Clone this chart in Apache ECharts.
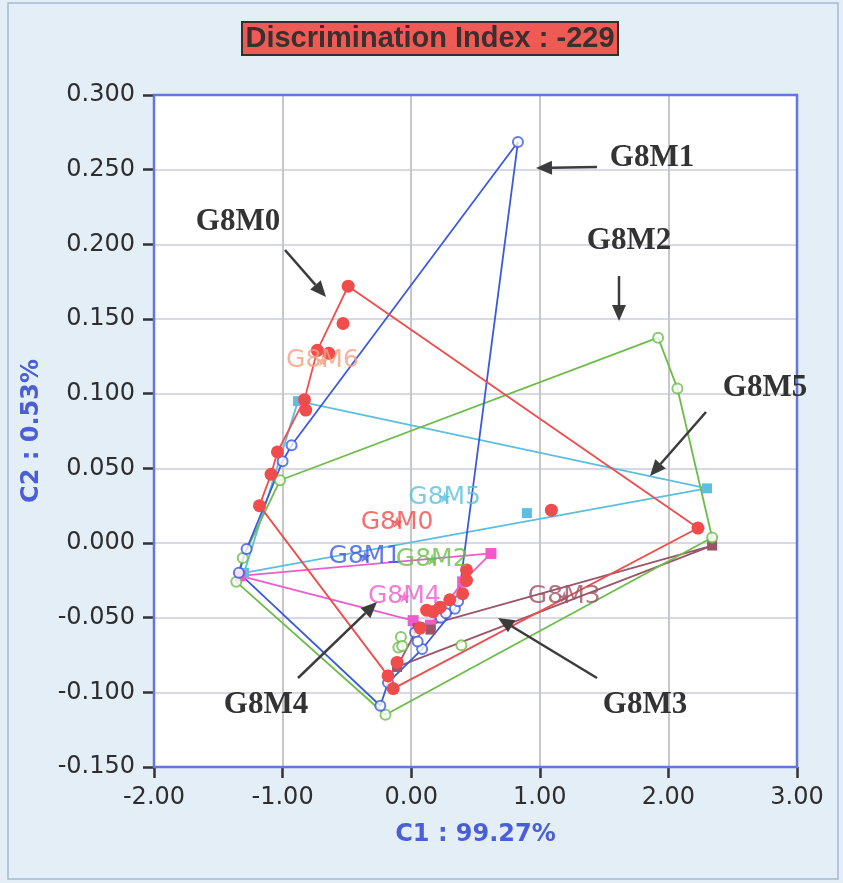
<!DOCTYPE html>
<html><head><meta charset="utf-8">
<script src="https://cdn.jsdelivr.net/npm/echarts@6/dist/echarts.min.js"></script>
<style>html,body{margin:0;padding:0;background:#e3eef7;} #c{width:843px;height:883px;}</style>
</head><body><div id="c"></div>
<script>
// ---------- data ----------
const groupNames = ['G8M0','G8M1','G8M2','G8M3','G8M4','G8M5','G8M6'];
const xTickValues = [-2, -1, 0, 1, 2, 3];
const yTickValues = [-0.15, -0.1, -0.05, 0, 0.05, 0.1, 0.15, 0.2, 0.25, 0.3];

const g8m0Points = [[-0.49,0.172],[-0.53,0.147],[-0.73,0.129],[-0.64,0.127],[-0.83,0.096],[-0.82,0.089],
  [-1.04,0.061],[-1.09,0.046],[-1.18,0.025],[2.23,0.010],[1.09,0.022],[-0.18,-0.089],[-0.14,-0.0975],
  [-0.11,-0.080],[0.43,-0.018],[0.43,-0.025],[0.40,-0.034],[0.30,-0.038],[0.225,-0.043],[0.12,-0.045],
  [0.07,-0.057],[0.17,-0.046]];
const g8m0Hull = [0,9,12,11,8,7,6,4,2,0];

const g8m1Points = [[0.83,0.2685],[-0.93,0.0654],[-1.00,0.0547],[-1.28,-0.004],[-1.34,-0.020],[-0.24,-0.109],
  [-0.18,-0.0935],[0.085,-0.071],[0.34,-0.044],[0.365,-0.039],[0.03,-0.060],[0.05,-0.066],[0.23,-0.050],[0.27,-0.047]];
const g8m1Hull = [0,1,2,3,4,5,6,7,8,9,0];

const g8m2Points = [[1.92,0.1375],[2.07,0.1035],[2.34,0.0037],[-0.20,-0.115],[-1.36,-0.026],[-1.31,-0.010],
  [-1.02,0.042],[0.39,-0.0685],[-0.08,-0.063],[-0.10,-0.070],[-0.07,-0.069]];
const g8m2Hull = [0,1,2,3,4,5,6,0];

const g8m3Points = [[2.34,-0.0017],[0.05,-0.057],[-0.11,-0.083],[0.15,-0.058]];
const g8m3Hull = [0,1,2,0];

const g8m4Points = [[0.62,-0.007],[-1.33,-0.022],[0.015,-0.052],[0.15,-0.055],[0.40,-0.026]];
const g8m4Hull = [1,0,4,3,2,1];

const g8m5Points = [[-0.88,0.095],[2.30,0.0366],[0.90,0.020],[-1.30,-0.020]];
const g8m5Hull = [0,1,3,0];

const g8m6Points = [];
const g8m6Hull = [];

const centroids = [[-0.11,0.014],[-0.36,-0.009],[0.163,-0.011],[1.19,-0.036],[-0.054,-0.036],[0.26,0.0306],[-0.69,0.122]];

// ---------- styles ----------
const colors = ['#f04c4c','#3c5ade','#6cbd48','#9c5468','#ee5ccc','#5cbfe0','#f4a080'];
const symbols = ['circle','emptyCircle','emptyCircle','rect','rect','rect','circle'];
const symbolSizes = [13,10,10,10,11,10,10];
const pointSets = [g8m0Points,g8m1Points,g8m2Points,g8m3Points,g8m4Points,g8m5Points,g8m6Points];
const hullSets = [g8m0Hull,g8m1Hull,g8m2Hull,g8m3Hull,g8m4Hull,g8m5Hull,g8m6Hull];
const drawOrder = [6,5,4,3,2,1,0];
const starPath = 'path://M50,0 L61,35 98,35 68,57 79,91 50,70 21,91 32,57 2,35 39,35 Z';

const series = [];
drawOrder.forEach(gi => {
  const pts = pointSets[gi];
  if (hullSets[gi].length) {
    series.push({type:'line', name:groupNames[gi], data: hullSets[gi].map(i => pts[i]),
      showSymbol:false, symbol:'none', silent:true, z:2,
      lineStyle:{color:colors[gi], width:1.8}});
  }
  if (pts.length) {
    series.push({type:'scatter', name:groupNames[gi], data: pts, symbol: symbols[gi],
      symbolSize: symbolSizes[gi], z:3,
      itemStyle: symbols[gi]==='emptyCircle' ? {color:colors[gi], borderColor:colors[gi], borderWidth:1.8}
                                             : {color:colors[gi], opacity:1}});
  }
});
groupNames.forEach((g, gi) => {
  series.push({type:'scatter', name:g+' centroid', data:[centroids[gi]], symbol: starPath, symbolSize:12, z:4,
    itemStyle:{color:colors[gi]},
    label:{show:true, position:'inside', formatter:g, color:colors[gi],
      fontFamily:'DejaVu Sans', fontSize:25}});
});

// ---------- annotations (layout, pixels) ----------
const ann = [
  {t:'G8M1', tx:652, ty:158, a:[597,167,536,168]},
  {t:'G8M0', tx:238, ty:222, a:[285,250,326,297]},
  {t:'G8M2', tx:629, ty:241, a:[619,276,619,321]},
  {t:'G8M5', tx:765, ty:388, a:[706,412,650,476]},
  {t:'G8M4', tx:266, ty:705, a:[298,678,377,602]},
  {t:'G8M3', tx:645, ty:705, a:[597,678,498,618]}
];
function arrow(x1,y1,x2,y2){
  const dx=x2-x1, dy=y2-y1, L=Math.hypot(dx,dy), ux=dx/L, uy=dy/L;
  const hl=16, hw=7, bx=x2-ux*hl, by=y2-uy*hl;
  return [
    {type:'line', z:100, shape:{x1:x1,y1:y1,x2:bx,y2:by}, style:{stroke:'#3c3c3c', lineWidth:2.5}},
    {type:'polygon', z:100, shape:{points:[[x2,y2],[bx-uy*hw,by+ux*hw],[bx+uy*hw,by-ux*hw]]}, style:{fill:'#3c3c3c'}}
  ];
}
const graphics = [
  {type:'rect', z:-1, shape:{x:8,y:3,width:830,height:876}, style:{fill:'none', stroke:'#a4b8d8', lineWidth:1.5}},
  {type:'rect', z:50, silent:true, shape:{x:154,y:95,width:643,height:672}, style:{fill:'none', stroke:'#6476da', lineWidth:2.5}},
  {type:'rect', z:10, shape:{x:242,y:22,width:376,height:33}, style:{fill:'#f05a55', stroke:'#3a2c2c', lineWidth:2}},
  {type:'text', z:11, x:430, y:39, style:{text:'Discrimination Index : -229', font:'bold 29px "Liberation Sans"',
    fill:'#3a3030', textAlign:'center', textVerticalAlign:'middle'}}
];
ann.forEach(o => {
  graphics.push({type:'text', z:100, x:o.tx, y:o.ty, style:{text:o.t, font:'bold 31px "Liberation Serif"',
    fill:'#333333', textAlign:'center', textVerticalAlign:'middle'}});
  arrow(...o.a).forEach(e => graphics.push(e));
});

const chart = echarts.init(document.getElementById('c'), null, {renderer:'canvas'});
chart.setOption({
  animation:false,
  backgroundColor:'#e3eef7',
  grid:{left:154, top:95, width:643, height:672, show:true, backgroundColor:'#ffffff',
    borderColor:'#6476da', borderWidth:2},
  xAxis:{type:'value', min:xTickValues[0], max:xTickValues[xTickValues.length-1], interval:1,
    axisLine:{show:false, onZero:false}, axisTick:{show:true, length:11, lineStyle:{color:'#333', width:2.5}},
    axisLabel:{margin:19, fontFamily:'DejaVu Sans', fontSize:24, color:'#2e2e2e', formatter:v=>v.toFixed(2)},
    splitLine:{show:true, lineStyle:{color:'#c6c6ce', width:2}},
    name:'C1 : 99.27%', nameLocation:'middle', nameGap:56,
    nameTextStyle:{fontFamily:'DejaVu Sans', fontWeight:'bold', fontSize:24, color:'#4a5fd6'}},
  yAxis:{type:'value', min:yTickValues[0], max:yTickValues[yTickValues.length-1], interval:0.05,
    axisLine:{show:false, onZero:false}, axisTick:{show:true, length:11, lineStyle:{color:'#333', width:2.5}},
    axisLabel:{margin:19, fontFamily:'DejaVu Sans', fontSize:24, color:'#2e2e2e', formatter:v=>v.toFixed(3),
      padding:[5,0,0,0]},
    splitLine:{show:true, lineStyle:{color:'#d8d8e6', width:2}},
    name:'C2 : 0.53%', nameLocation:'middle', nameGap:110, nameRotate:90,
    nameTextStyle:{fontFamily:'DejaVu Sans', fontWeight:'bold', fontSize:24, color:'#4a5fd6'}},
  series: series,
  graphic: graphics
});
</script></body></html>
